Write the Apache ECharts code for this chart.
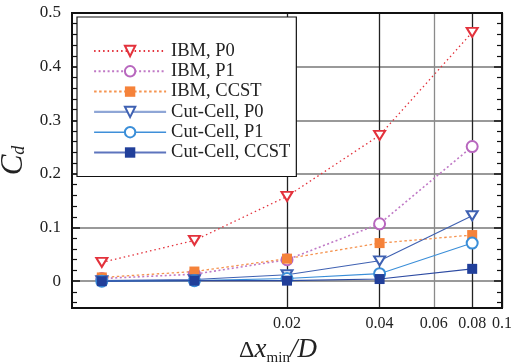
<!DOCTYPE html>
<html>
<head>
<meta charset="utf-8">
<script src="https://cdn.jsdelivr.net/npm/echarts@6/dist/echarts.min.js"></script>
<style>
  html, body { margin: 0; padding: 0; background: #fff; }
  #chart { width: 511px; height: 362px; }
</style>
</head>
<body>
<div id="chart"></div>
<script>
// Grid spacing (Δx_min / D) used for every run
const xValues = [0.005, 0.01, 0.02, 0.04, 0.08];

// Drag coefficient C_d for each method
const ibmP0    = [0.035, 0.076, 0.158, 0.272, 0.464];
const ibmP1    = [0.005, 0.013, 0.040, 0.107, 0.251];
const ibmCCST  = [0.007, 0.018, 0.042, 0.071, 0.086];
const cutP0    = [0.001, 0.003, 0.012, 0.038, 0.122];
const cutP1    = [0.000, 0.001, 0.005, 0.014, 0.071];
const cutCCST  = [0.000, 0.001, 0.001, 0.004, 0.023];

const seriesNames = ['IBM, P0', 'IBM, P1', 'IBM, CCST', 'Cut-Cell, P0', 'Cut-Cell, P1', 'Cut-Cell, CCST'];

// Axis ticks
const xTickValues = [0.02, 0.04, 0.06, 0.08, 0.1];
const yMajorTicks = [0, 0.1, 0.2, 0.3, 0.4, 0.5];
const yMinorTicks = [-0.04, -0.02, 0.02, 0.04, 0.06, 0.08, 0.12, 0.14, 0.16, 0.18,
                     0.22, 0.24, 0.26, 0.28, 0.32, 0.34, 0.36, 0.38, 0.42, 0.44, 0.46, 0.48];

const FONT = 'Liberation Serif';

function pairs(ys) { return xValues.map((x, i) => [x, ys[i]]); }

function yAxisBase(pos) {
  return {
    type: 'value', min: -0.05, max: 0.5, position: pos,
    axisLine: { show: false },
    axisLabel: { show: false },
    splitLine: { show: false }
  };
}

const chart = echarts.init(document.getElementById('chart'), null, { renderer: 'canvas' });

chart.setOption({
  animation: false,
  backgroundColor: '#fff',
  grid: {
    left: 72, right: 9, top: 13, bottom: 54,
    containLabel: false, outerBoundsMode: 'none',
    show: true, borderColor: '#111', borderWidth: 2, backgroundColor: 'transparent',
    z: 3
  },
  xAxis: {
    type: 'log', logBase: 10, min: 0.004, max: 0.1,
    axisLine: { show: false },
    axisTick: { show: false, customValues: xTickValues },
    axisLabel: {
      customValues: xTickValues,
      fontFamily: FONT, fontSize: 16, color: '#222', margin: 8,
      formatter: v => String(+(+v).toFixed(2))
    },
    splitLine: {
      show: true,
      lineStyle: { color: ['#222', '#222', '#8a8a8a', '#222', '#222'], width: 1.3 }
    },
    minorTick: { show: false },
    name: '{del|Δ}{x|x}{s|min}{d|/D}',
    nameLocation: 'middle',
    nameGap: 19,
    nameTextStyle: {
      padding: [0, 18, 0, 0],
      rich: {
        del: { fontFamily: FONT, fontSize: 24, color: '#222', lineHeight: 30 },
        x:   { fontFamily: FONT, fontStyle: 'italic', fontSize: 27, color: '#222', lineHeight: 30 },
        s:   { fontFamily: FONT, fontSize: 15, color: '#222', lineHeight: 14, verticalAlign: 'bottom' },
        d:   { fontFamily: FONT, fontStyle: 'italic', fontSize: 27, color: '#222', lineHeight: 30 }
      }
    }
  },
  yAxis: [
    Object.assign(yAxisBase('left'), {
      axisLabel: {
        show: true, customValues: yMajorTicks,
        fontFamily: FONT, fontSize: 17, color: '#222', margin: 11,
        formatter: v => (+v === 0 ? '0' : (+v).toFixed(1))
      },
      axisTick: { show: true, inside: true, length: 8, customValues: yMajorTicks,
                  lineStyle: { color: '#111', width: 1.5 } },
      splitLine: { show: true, lineStyle: { color: '#777', width: 1.6 } },
      name: '{c|C}{d|d}',
      nameLocation: 'middle',
      nameRotate: 90,
      nameGap: 38,
      nameTextStyle: {
        rich: {
          c: { fontFamily: FONT, fontStyle: 'italic', fontSize: 31, color: '#222', lineHeight: 30 },
          d: { fontFamily: FONT, fontStyle: 'italic', fontSize: 18, color: '#222', lineHeight: 10, verticalAlign: 'bottom' }
        }
      }
    }),
    Object.assign(yAxisBase('left'), {
      axisTick: { show: true, inside: true, length: 5, customValues: yMinorTicks,
                  lineStyle: { color: '#111', width: 1.2 } }
    }),
    Object.assign(yAxisBase('right'), {
      axisTick: { show: true, inside: true, length: 8, customValues: yMajorTicks,
                  lineStyle: { color: '#111', width: 1.5 } }
    }),
    Object.assign(yAxisBase('right'), {
      axisTick: { show: true, inside: true, length: 5, customValues: yMinorTicks,
                  lineStyle: { color: '#111', width: 1.2 } }
    })
  ],
  legend: {
    orient: 'vertical',
    left: 77, top: 17,
    padding: [24, 6, 14, 16],
    itemWidth: 72, itemHeight: 13, itemGap: 0.3,
    backgroundColor: '#fff',
    borderColor: '#111', borderWidth: 1.2,
    textStyle: { fontFamily: FONT, fontSize: 18.5, lineHeight: 20, color: '#222' },
    data: [
      { name: seriesNames[0] },
      { name: seriesNames[1] },
      { name: seriesNames[2] },
      { name: seriesNames[3], lineStyle: { width: 2.2, color: '#8fa6d6' } },
      { name: seriesNames[4], lineStyle: { width: 1.6, color: '#3f8fd9' } },
      { name: seriesNames[5], lineStyle: { width: 2, color: '#5d74bd' } }
    ],
    z: 10
  },
  series: [
    {
      name: seriesNames[0], type: 'line', data: pairs(ibmP0),
      symbol: 'emptyTriangle', symbolRotate: 180, symbolSize: [11, 9],
      itemStyle: { color: '#e3323c', borderWidth: 1.3 },
      lineStyle: { color: '#e3323c', width: 1.3, type: [1.5, 3] }, z: 4
    },
    {
      name: seriesNames[1], type: 'line', data: pairs(ibmP1),
      symbol: 'emptyCircle', symbolSize: 11,
      itemStyle: { color: '#b867be', borderWidth: 1.2 },
      lineStyle: { color: '#c07ac6', width: 1.6, type: [2, 2.5] }, z: 4
    },
    {
      name: seriesNames[2], type: 'line', data: pairs(ibmCCST),
      symbol: 'rect', symbolSize: 10,
      itemStyle: { color: '#f5823a' },
      lineStyle: { color: '#f5934f', width: 1.3, type: [2.5, 2.5] }, z: 4
    },
    {
      name: seriesNames[3], type: 'line', data: pairs(cutP0),
      symbol: 'emptyTriangle', symbolRotate: 180, symbolSize: [11, 9],
      itemStyle: { color: '#3f61b2', borderWidth: 1.2 },
      lineStyle: { color: '#3f61b2', width: 1.1 }, z: 5
    },
    {
      name: seriesNames[4], type: 'line', data: pairs(cutP1),
      symbol: 'emptyCircle', symbolSize: 11,
      itemStyle: { color: '#3a8ed8', borderWidth: 1.2 },
      lineStyle: { color: '#3a8ed8', width: 1.1 }, z: 5
    },
    {
      name: seriesNames[5], type: 'line', data: pairs(cutCCST),
      symbol: 'rect', symbolSize: 10,
      itemStyle: { color: '#213f9a' },
      lineStyle: { color: '#2c4aa2', width: 1.1 }, z: 6
    }
  ]
});
</script>
</body>
</html>
